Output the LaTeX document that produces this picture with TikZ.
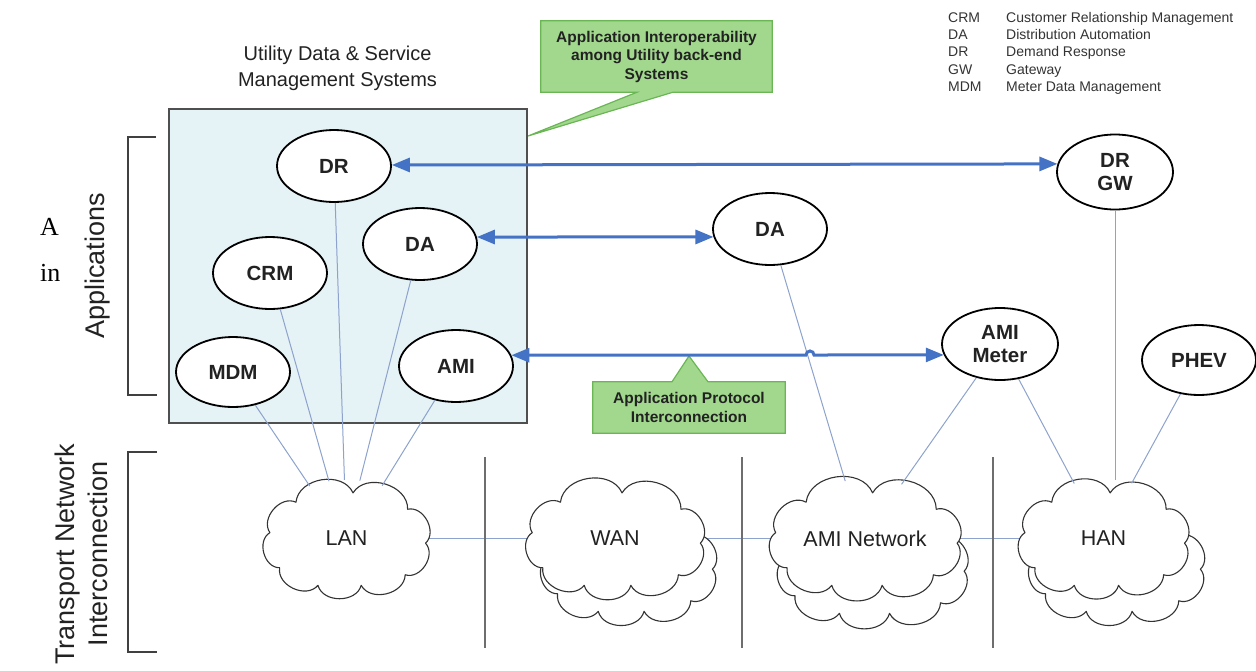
\documentclass[tikz,border=0pt]{standalone}
\usepackage{fontspec}
\setmainfont{Liberation Sans}
\newfontfamily\serifA{Liberation Serif}
\usetikzlibrary{shapes.geometric,arrows.meta,calc}
\pgfdeclarelayer{bg}
\pgfdeclarelayer{mid}
\pgfsetlayers{bg,mid,main}
\definecolor{arrowblue}{HTML}{4472C4}
\definecolor{linkblue}{HTML}{8DA2CC}
\definecolor{boxfill}{HTML}{E5F2F6}
\definecolor{boxedge}{HTML}{4F4F4F}
\definecolor{calloutfill}{HTML}{A2D88E}
\definecolor{calloutedge}{HTML}{6AB554}
\definecolor{sepgray}{HTML}{6E6E6E}
\definecolor{txt}{HTML}{222222}
\tikzset{
 app/.style={ellipse, draw=black, line width=1.8pt, fill=white, minimum width=114pt, minimum height=72pt, inner sep=0pt, font=\fontsize{20.5}{23}\selectfont\bfseries, align=center, text=txt},
 cloudnode/.style={ellipse, inner sep=0pt, font=\fontsize{21.5}{24}\selectfont, text=txt, minimum height=117pt},
 cloudline/.style={draw=black!80, line width=1.1pt, fill=white, line join=round},
 puff/.style={bend left=75, looseness=1.1},
 link/.style={draw=linkblue, line width=1pt},
 dual/.style={draw=arrowblue, line width=3pt, {Triangle[length=18pt,width=14pt]}-{Triangle[length=18pt,width=14pt]}},
 sep/.style={draw=sepgray, line width=1.4pt},
 bracket/.style={draw=black!75, line width=1.2pt},
 sysbox/.style={draw=boxedge, fill=boxfill, line width=1.3pt, inner sep=0pt},
 callouttext/.style={font=\fontsize{15.5}{18.5}\selectfont\bfseries, text=txt, align=center, inner sep=0pt},
 callout/.style={fill=calloutfill, draw=calloutedge, line width=1.2pt, line join=miter},
 sidelabel/.style={font=\fontsize{27}{33}\selectfont, text=txt, align=center, rotate=90, inner sep=0pt},
 title/.style={font=\fontsize{20}{26}\selectfont, text=txt, align=center, inner sep=0pt},
 legend/.style={font=\fontsize{14}{17.4}\selectfont, text=black!80, inner sep=0pt},
 cuttext/.style={font=\serifA\fontsize{26}{30}\selectfont, text=black, inner sep=0pt},
}
% cloud outline around a named node: #1 node, #2 half width, #3 half height
\newcommand{\cloudring}[3]{%
\begin{pgfonlayer}{mid}
\begin{scope}[y=1pt]
\path[cloudline] ($(#1.center)+({0.08*#2},{0.78*#3})$)
 to[puff] ($(#1.center)+({0.75*#2},{0.50*#3})$)
 to[puff] ($(#1.center)+({0.97*#2},{-0.08*#3})$)
 to[puff] ($(#1.center)+({0.72*#2},{-0.62*#3})$)
 to[puff] ($(#1.center)+({0.18*#2},{-0.80*#3})$)
 to[puff] ($(#1.center)+({-0.35*#2},{-0.80*#3})$)
 to[puff] ($(#1.center)+({-0.82*#2},{-0.50*#3})$)
 to[puff] ($(#1.center)+({-0.94*#2},{0.10*#3})$)
 to[puff] ($(#1.center)+({-0.62*#2},{0.62*#3})$)
 to[puff] ($(#1.center)+({0.08*#2},{0.78*#3})$) -- cycle;
\end{scope}
\end{pgfonlayer}}
\begin{document}
\begin{tikzpicture}[x=1pt,y=-1pt]
\useasboundingbox (0,0) rectangle (1256,670);

% system box
\node[sysbox, minimum width=358pt, minimum height=314pt] (box) at (348,266) {};
\node[title] (boxtitle) at (337.5,68) {Utility Data \& Service\\Management Systems};

% cut-off text at left
\node[cuttext, anchor=base west] (cutA) at (40,235) {A};
\node[cuttext, anchor=base west] (cutin) at (40,281) {in};

% side labels and brackets
\node[sidelabel] (applab) at (97.5,266) {Applications};
\node[sidelabel] (translab) at (81.5,554) {Transport Network\\Interconnection};
\draw[bracket] (156,137) -- (128,137) -- (128,395) -- (157,395);
\draw[bracket] (157,452) -- (128,452) -- (128,652) -- (157,652);

% legend
\node[legend, anchor=base west] (leg) at (948,22) {\begin{tabular}[t]{@{}p{58pt}@{}l@{}}
CRM & Customer Relationship Management\\
DA & Distribution Automation\\
DR & Demand Response\\
GW & Gateway\\
MDM & Meter Data Management
\end{tabular}};

% application ellipses
\node[app] (dr) at (334,166) {DR};
\node[app] (daA) at (420,244) {DA};
\node[app] (crm) at (270,273) {CRM};
\node[app, minimum height=70pt] (mdm) at (233,372) {MDM};
\node[app] (ami) at (456,366) {AMI};
\node[app] (daB) at (770,229) {DA};
\node[app, minimum width=116pt, minimum height=75pt] (drgw) at (1115,172) {DR\\GW};
\node[app, minimum width=116pt] (meter) at (1000,344) {AMI\\Meter};
\node[app, minimum height=70pt] (phev) at (1199,360) {PHEV};

% separators
\draw[sep] (485,457) -- (485,648);
\draw[sep] (742,457) -- (742,648);
\draw[sep] (993,457) -- (993,648);

% clouds (nodes carry names and labels; outlines drawn around them)
\node[cloudnode, minimum width=173pt] (wanB) at (628.5,564.5) {};
\node[cloudnode, minimum width=189pt] (amiB) at (872.5,566.5) {};
\node[cloudnode, minimum width=173pt] (hanB) at (1116.5,564.5) {};
\node[cloudnode, minimum width=163pt] (lan) at (346.5,538.5) {LAN};
\node[cloudnode, minimum width=176pt] (wan) at (615,538.5) {WAN};
\node[cloudnode, minimum width=190pt] (amin) at (865,538.5) {AMI Network};
\node[cloudnode, minimum width=167pt] (han) at (1103.5,538.5) {HAN};
\cloudring{wanB}{86.5}{58.5}
\cloudring{amiB}{94.5}{58.5}
\cloudring{hanB}{86.5}{58.5}
\cloudring{lan}{81.5}{58.5}
\cloudring{wan}{88}{58.5}
\cloudring{amin}{95}{58.5}
\cloudring{han}{83.5}{58.5}

% links between clouds (behind)
\begin{pgfonlayer}{bg}
\draw[link] (lan.center) -- (wan.center);
\draw[link] (wan.center) -- (amin.center);
\draw[link] (amin.center) -- (han.center);
\end{pgfonlayer}

% thin connectors
\draw[link] (mdm) -- (lan.125);
\draw[link] (crm) -- (lan.107);
\draw[link] (dr) -- (lan.92);
\draw[link] (daA) -- (lan.77);
\draw[link] (ami) -- (lan.56);
\draw[link] (daB) -- (amin.109);
\draw[link] (meter) -- (amin.56);
\draw[link] (meter) -- (han.118);
\draw[link] (drgw.south) -- (drgw.south |- han.north);
\draw[link] (phev) -- (han.63);

% application arrows
\coordinate (hop) at (806,355);
\draw[dual] (dr.1) -- (drgw.172);
\draw[dual] (daA.7) -- (daB.188);
\draw[dual] (ami.11) -- (hop) arc (180:360:4) -- (meter.191);

% callouts
\coordinate (tipA) at (528,136);
\coordinate (tipB) at (689,356);
\node[callouttext, minimum width=231pt, minimum height=71pt] (cA) at (656.5,56.5) {Application Interoperability\\among Utility back-end\\Systems};
\node[callouttext, minimum width=192pt, minimum height=51pt] (cB) at (689,407.5) {Application Protocol\\Interconnection};
\begin{pgfonlayer}{bg}
\draw[callout] (cA.north west) -- (cA.north east) -- (cA.south east) -- ($(cA.south)+(16.5,0)$) -- (tipA) -- ($(cA.south)+(-19.5,0)$) -- (cA.south west) -- cycle;
\draw[callout] (cB.south west) -- (cB.north west) -- ($(cB.north)+(-17,0)$) -- (tipB) -- ($(cB.north)+(19,0)$) -- (cB.north east) -- (cB.south east) -- cycle;
\end{pgfonlayer}
\end{tikzpicture}
\end{document}
